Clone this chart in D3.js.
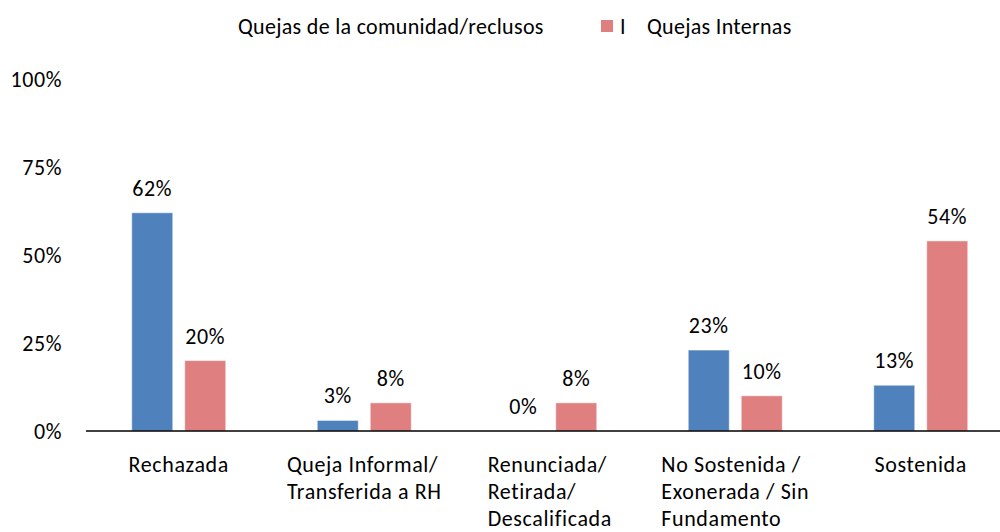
<!DOCTYPE html>
<html>
<head>
<meta charset="utf-8">
<script src="https://cdn.jsdelivr.net/npm/d3@7"></script>
<style>
  body { margin: 0; background: #fff; }
  svg { display: block; font-family: Carlito, Calibri, Lato, sans-serif; }
</style>
</head>
<body>
<div id="chart"></div>
<script>
const categories = [
    ["Rechazada"],
    ["Queja Informal/", "Transferida a RH"],
    ["Renunciada/", "Retirada/", "Descalificada"],
    ["No Sostenida /", "Exonerada / Sin", "Fundamento"],
    ["Sostenida"]
];
const comunidad = [62, 3, 0, 23, 13];
const internas = [20, 8, 8, 10, 54];
const yTicks = [0, 25, 50, 75, 100];
const seriesNames = ["Quejas de la comunidad/reclusos", "Quejas Internas"];
const colors = ["#4f81bd", "#df7f7f"];

const W = 1000, H = 532;
const margin = {top: 79, left: 86, bottom: 101};
const FS = 22, LS = 0.6;

const svg = d3.select("#chart").append("svg")
    .attr("width", W)
    .attr("height", H);

const x = d3.scaleBand()
    .domain(d3.range(categories.length))
    .range([margin.left, margin.left + 5 * 185.5]);

const y = d3.scaleLinear()
    .domain([0, 100])
    .range([H - margin.bottom, margin.top]);

const barW = 41, gap = 12;

// y tick labels (no axis line, no grid)
const yAxis = d3.axisLeft(y).tickValues(yTicks).tickFormat(d => d + "%").tickSize(0).tickPadding(0);
const yG = svg.append("g")
    .attr("transform", "translate(62,0)")
    .call(yAxis);
yG.select(".domain").remove();
yG.selectAll("text")
    .attr("font-family", "Carlito, Calibri, Lato, sans-serif")
    .attr("font-size", FS)
    .attr("letter-spacing", LS)
    .attr("fill", "#000");

// bars
const series = [comunidad, internas];
series.forEach(function(values, s) {
    const offset = s === 0 ? -(gap / 2 + barW) : gap / 2;
    svg.append("g").selectAll("rect")
        .data(values)
        .join("rect")
        .attr("x", (d, i) => x(i) + x.bandwidth() / 2 + offset)
        .attr("y", d => y(d))
        .attr("width", barW)
        .attr("height", d => y(0) - y(d))
        .attr("fill", colors[s])
        .attr("stroke", "#fff")
        .attr("stroke-opacity", 0.5)
        .attr("stroke-width", 1);

    svg.append("g").selectAll("text")
        .data(values)
        .join("text")
        .attr("x", (d, i) => x(i) + x.bandwidth() / 2 + offset + barW / 2)
        .attr("y", d => y(d) - 17)
        .attr("text-anchor", "middle")
        .attr("font-size", FS)
        .attr("letter-spacing", LS)
        .text(d => d + "%");
});

// x axis line
svg.append("line")
    .attr("x1", margin.left)
    .attr("x2", W)
    .attr("y1", y(0))
    .attr("y2", y(0))
    .attr("stroke", "#000")
    .attr("stroke-width", 1.5);

// category labels, lines left-aligned, block centred on the band
categories.forEach(function(lines, i) {
    const g = svg.append("g");
    const texts = lines.map(function(line, j) {
        return g.append("text")
            .attr("y", y(0) + 41 + j * 27)
            .attr("font-size", FS)
            .attr("letter-spacing", LS)
            .text(line);
    });
    const widest = d3.max(texts, t => t.node().getComputedTextLength());
    const left = x(i) + x.bandwidth() / 2 - widest / 2;
    texts.forEach(t => t.attr("x", left));
});

// legend (as in the original: first marker missing, stray "I")
const legend = svg.append("g").attr("font-size", FS).attr("letter-spacing", 0.3);
legend.append("text")
    .attr("x", 238)
    .attr("y", 34)
    .text(seriesNames[0]);
legend.append("rect")
    .attr("x", 601)
    .attr("y", 20)
    .attr("width", 12)
    .attr("height", 12)
    .attr("fill", colors[1]);
legend.append("text")
    .attr("x", 620)
    .attr("y", 34)
    .text("I");
legend.append("text")
    .attr("x", 647)
    .attr("y", 34)
    .text(seriesNames[1]);
</script>
</body>
</html>
